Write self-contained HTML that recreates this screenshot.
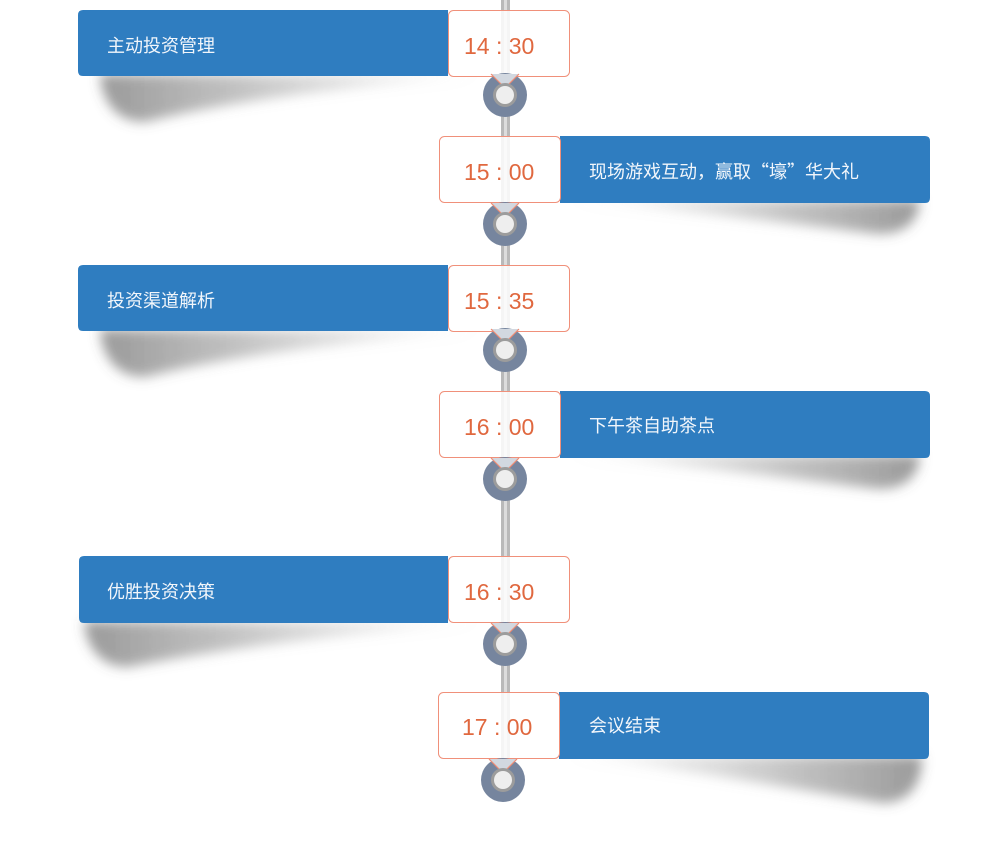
<!DOCTYPE html>
<html><head><meta charset="utf-8"><style>
html,body{margin:0;padding:0;background:#fff;width:1008px;height:850px;overflow:hidden}
svg{display:block}
.lab{font-family:"Noto Sans CJK SC","Liberation Sans",sans-serif;font-size:18px;fill:#f2f6fb}
.tm{font-family:"Liberation Sans","Noto Sans CJK SC",sans-serif;font-size:23px;fill:#e0683f}
</style></head><body>
<svg width="1008" height="850" viewBox="0 0 1008 850" xmlns="http://www.w3.org/2000/svg">
<defs>
<filter id="bl" x="-20%" y="-80%" width="140%" height="260%"><feGaussianBlur stdDeviation="6"/></filter>
<linearGradient id="gl" x1="0" x2="1" y1="0" y2="0"><stop offset="0" stop-color="#555" stop-opacity=".6"/><stop offset=".35" stop-color="#777" stop-opacity=".45"/><stop offset="1" stop-color="#aaa" stop-opacity="0"/></linearGradient>
<linearGradient id="gr" x1="1" x2="0" y1="0" y2="0"><stop offset="0" stop-color="#555" stop-opacity=".6"/><stop offset=".35" stop-color="#777" stop-opacity=".45"/><stop offset="1" stop-color="#aaa" stop-opacity="0"/></linearGradient>
<g id="circ">
<circle r="22" fill="#76859e"/>
<path d="M-14,-21 L14,-21 L0,-7 Z" fill="#d2d8e0"/>
<path d="M-14,-21 L0,-7 L14,-21" fill="none" stroke="#ef8c74" stroke-width="1.2"/>
<circle r="12" fill="#9c9c9c"/>
<circle r="9" fill="#eeeeee"/>
</g>
</defs>

<rect x="501" y="0" width="9" height="785" fill="#b9b9b9"/>
<rect x="504" y="0" width="3" height="785" fill="#dcdcdc"/>

<path d="M100,74 L490,76 C380,84 240,98 145,122 C115,122 102,100 100,74 Z" fill="url(#gl)" filter="url(#bl)"/>
<path d="M100,329 L490,331 C380,339 240,353 145,377 C115,377 102,355 100,329 Z" fill="url(#gl)" filter="url(#bl)"/>
<path d="M84,621 L490,623 C380,631 240,645 128,667 C99,667 86,645 84,621 Z" fill="url(#gl)" filter="url(#bl)"/>
<path d="M560,200 L920,200 C918,222 905,234 878,234 C760,220 660,208 560,200 Z" fill="url(#gr)" filter="url(#bl)"/>
<path d="M560,455 L920,455 C918,477 905,489 878,489 C760,475 660,463 560,455 Z" fill="url(#gr)" filter="url(#bl)"/>
<path d="M559,756 L922,756 C922,788 906,803 882,803 C760,783 660,766 559,756 Z" fill="url(#gr)" filter="url(#bl)"/>

<path d="M83,10 H448 V76 H83 Q78,76 78,71 V15 Q78,10 83,10 Z" fill="#2f7dc0"/>
<rect x="448.5" y="10.5" width="121" height="66" rx="5" fill="#fff" fill-opacity=".85" stroke="#f0907a"/>
<text class="lab" x="107" y="52">主动投资管理</text>
<text class="tm" x="464" y="54">14 : 30</text>
<use href="#circ" x="505" y="95"/>

<path d="M560,136 H925 Q930,136 930,141 V198 Q930,203 925,203 H560 Z" fill="#2f7dc0"/>
<rect x="439.5" y="136.5" width="121" height="66" rx="5" fill="#fff" fill-opacity=".85" stroke="#f0907a"/>
<text class="lab" x="589" y="178">现场游戏互动，赢取“壕”华大礼</text>
<text class="tm" x="464" y="180">15 : 00</text>
<use href="#circ" x="505" y="224"/>

<path d="M83,265 H448 V331 H83 Q78,331 78,326 V270 Q78,265 83,265 Z" fill="#2f7dc0"/>
<rect x="448.5" y="265.5" width="121" height="66" rx="5" fill="#fff" fill-opacity=".85" stroke="#f0907a"/>
<text class="lab" x="107" y="307">投资渠道解析</text>
<text class="tm" x="464" y="309">15 : 35</text>
<use href="#circ" x="505" y="350"/>

<path d="M560,391 H925 Q930,391 930,396 V453 Q930,458 925,458 H560 Z" fill="#2f7dc0"/>
<rect x="439.5" y="391.5" width="121" height="66" rx="5" fill="#fff" fill-opacity=".85" stroke="#f0907a"/>
<text class="lab" x="589" y="432">下午茶自助茶点</text>
<text class="tm" x="464" y="435">16 : 00</text>
<use href="#circ" x="505" y="479"/>

<path d="M84,556 H448 V623 H84 Q79,623 79,618 V561 Q79,556 84,556 Z" fill="#2f7dc0"/>
<rect x="448.5" y="556.5" width="121" height="66" rx="5" fill="#fff" fill-opacity=".85" stroke="#f0907a"/>
<text class="lab" x="107" y="598">优胜投资决策</text>
<text class="tm" x="464" y="600">16 : 30</text>
<use href="#circ" x="505" y="644"/>

<path d="M559,692 H924 Q929,692 929,697 V754 Q929,759 924,759 H559 Z" fill="#2f7dc0"/>
<rect x="438.5" y="692.5" width="121" height="66" rx="5" fill="#fff" fill-opacity=".85" stroke="#f0907a"/>
<text class="lab" x="589" y="732">会议结束</text>
<text class="tm" x="462" y="735">17 : 00</text>
<use href="#circ" x="503" y="780"/>
</svg>
</body></html>
